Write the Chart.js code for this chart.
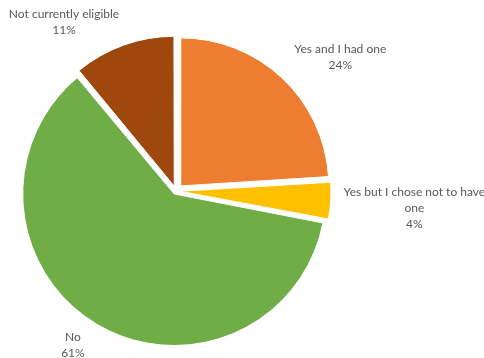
<!DOCTYPE html>
<html>
<head>
<meta charset="utf-8">
<script src="https://cdn.jsdelivr.net/npm/chart.js@4"></script>
<style>
  html, body { margin: 0; padding: 0; background: #fff; }
  #wrap { width: 484px; height: 358px; }
</style>
</head>
<body>
<div id="wrap"><canvas id="pieChart"></canvas></div>
<script>
// answers, clockwise from 12 o'clock
const categories = ['Yes and I had one', ['Yes but I chose not to have', 'one'], 'No', 'Not currently eligible'];
const percents = [24, 4, 61, 11];
const sliceColors = ['#ED7D31', '#FFC000', '#70AD47', '#9E480E'];

// how far every slice is pulled out (px)
const explode = 7;
// small hand nudges so labels sit where the original put them
const labelNudge = [[13, 5], [-7, 5], [-8, -10], [-34, 11]];

// chart.js moves an arc by offset/4 * (1 + fix), fix depends on arc size,
// so work back to get the same pull-out on every slice
function sliceOffset(c) {
  const total = percents.reduce((a, b) => a + b, 0);
  const circ = percents[c.dataIndex] / total * Math.PI * 2;
  const fix = 1 - Math.sin(Math.min(Math.PI, circ));
  return 4 * explode / (1 + fix);
}

const pieLabels = {
  id: 'pieLabels',
  afterDatasetsDraw(chart) {
    const ctx = chart.ctx;
    const meta = chart.getDatasetMeta(0);
    ctx.save();
    ctx.font = '12px Lato';
    ctx.fillStyle = '#595959';
    ctx.textAlign = 'center';
    ctx.textBaseline = 'middle';
    const lineH = 16;
    meta.data.forEach((arc, i) => {
      const p = arc.getProps(['x', 'y', 'startAngle', 'endAngle', 'outerRadius'], true);
      const mid = (p.startAngle + p.endAngle) / 2;
      const dist = p.outerRadius + explode + 20;
      const cat = categories[i];
      const lines = (Array.isArray(cat) ? cat.slice() : [cat]);
      lines.push(percents[i] + '%');
      const w = Math.max(...lines.map(l => ctx.measureText(l).width));
      const h = lines.length * lineH;
      const ax = p.x + Math.cos(mid) * dist;
      const ay = p.y + Math.sin(mid) * dist;
      const cx = ax + Math.cos(mid) * w / 2 + labelNudge[i][0];
      const cy = ay + Math.sin(mid) * h / 2 + labelNudge[i][1];
      lines.forEach((l, k) => {
        ctx.fillText(l, cx, cy - h / 2 + lineH / 2 + k * lineH);
      });
    });
    ctx.restore();
  }
};

const ctx = document.getElementById('pieChart').getContext('2d');
new Chart(ctx, {
  type: 'pie',
  data: {
    labels: categories,
    datasets: [{
      data: percents,
      backgroundColor: sliceColors,
      borderColor: '#ffffff',
      borderWidth: 1,
      offset: sliceOffset
    }]
  },
  options: {
    responsive: true,
    maintainAspectRatio: false,
    animation: false,
    radius: 148,
    layout: { padding: { left: 20, right: 152, top: 30, bottom: 6 } },
    plugins: {
      legend: { display: false },
      tooltip: { enabled: false }
    }
  },
  plugins: [pieLabels]
});
</script>
</body>
</html>
